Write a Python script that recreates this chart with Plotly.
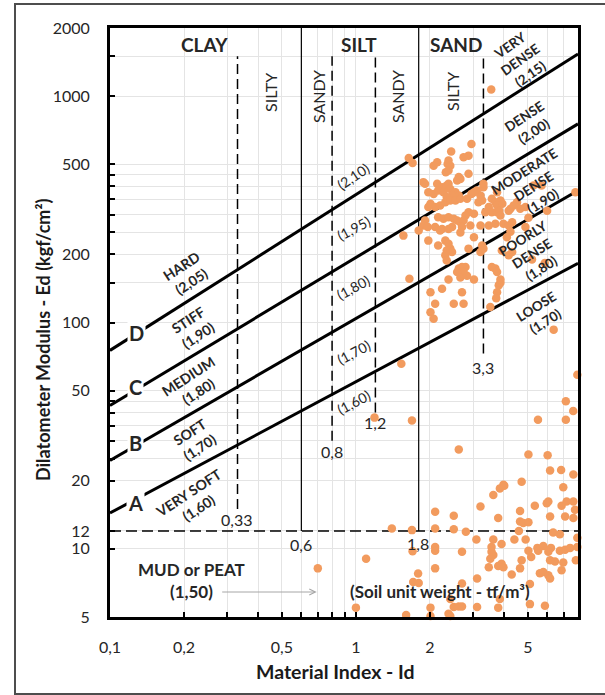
import math
import plotly.graph_objects as go

# ---------------- data ----------------
x_range = [0.1, 8.0]
y_range = [5, 2000]

# consistency lines A-D (Id at both ends, Ed at both ends)
line_id = [0.1, 8.0]
line_A_ed = [14.4, 182.7]
line_B_ed = [24.6, 383]
line_C_ed = [43.0, 754]
line_D_ed = [75.3, 1536]

# soil-type boundaries (Id)
solid_bounds = [0.6, 1.8]
solid_bottom = 12
dashed_bounds = [0.33, 0.8, 1.2, 3.3]
dashed_bottoms = [15, 30, 40, 73]
dashed_top = 1500
mud_limit = 12
bound_labels = ["0,33", "0,6", "0,8", "1,2", "1,8", "3,3"]

# measured points, upper cluster
id_upper = [3.55, 2.95, 1.64, 1.70, 2.44, 2.87, 2.74, 2.38, 2.36, 2.42, 2.14, 2.07, 2.32, 2.38, 2.87, 2.62,
            2.58, 2.66, 1.88, 1.91, 2.14, 2.24, 2.34, 2.38, 2.42, 1.97, 2.07, 2.16, 2.27, 2.54, 2.62, 2.46,
            3.10, 3.30, 2.95, 2.01, 1.97, 2.10, 2.20, 2.31, 2.34, 2.42, 2.54, 2.66, 2.83, 3.21, 3.26, 3.15,
            3.57, 3.69, 3.47, 2.87, 2.79, 3.02, 3.36, 3.57, 3.75, 2.16, 2.27, 2.38, 2.50, 2.58, 2.66, 2.74,
            1.91, 1.88, 3.69, 3.47, 2.10, 2.24, 2.46, 2.70, 2.92, 3.21, 1.96, 2.20, 2.38, 2.66, 1.97, 2.16,
            2.31, 2.38, 2.42, 2.34, 2.46, 2.31, 2.87, 3.02, 3.21, 3.30, 3.26, 2.34, 2.62, 2.70, 2.79, 2.74,
            2.66, 2.58, 2.83, 2.38, 3.02, 2.01, 2.24, 2.70, 2.10, 2.50, 2.74, 2.01, 2.07, 3.52, 3.69, 3.57,
            3.75, 3.81, 3.72, 3.87, 3.75, 1.65, 1.56, 1.80, 5.27, 5.69, 3.75, 3.87, 3.75, 3.94, 7.81, 4.52,
            4.38, 4.25, 4.18, 4.66, 4.89, 5.99, 5.03, 3.98, 4.18, 4.32, 4.89, 3.83, 3.87, 4.25, 4.11, 3.92,
            4.18, 4.32, 5.20, 5.86, 3.87, 6.37, 3.30, 3.02]
ed_upper = [1070, 615, 533, 507, 570, 546, 537, 519, 502, 493, 510, 493, 461, 469, 454, 439,
            424, 431, 417, 410, 410, 396, 403, 410, 389, 376, 370, 383, 376, 376, 364, 364,
            383, 396, 370, 335, 324, 324, 329, 340, 358, 346, 346, 352, 352, 364, 346, 340,
            352, 340, 324, 307, 297, 302, 307, 307, 307, 292, 287, 292, 287, 282, 277, 282,
            282, 268, 273, 268, 264, 259, 264, 264, 268, 268, 264, 255, 259, 250, 230, 219,
            230, 223, 212, 208, 205, 198, 212, 238, 205, 212, 219, 188, 173, 176, 176, 167,
            158, 167, 161, 155, 155, 136, 141, 136, 121, 121, 121, 111, 104, 117, 173, 176,
            136, 146, 128, 150, 167, 156, 242, 255, 403, 403, 376, 346, 329, 335, 376, 340,
            329, 318, 312, 318, 324, 312, 290, 273, 268, 277, 264, 312, 297, 252, 238, 208,
            198, 205, 190, 183, 155, 93, 410, 376]

# measured points, lower cluster
id_lower = [0.70, 1.10, 1.00, 1.40, 1.69, 1.70, 1.60, 2.01, 2.01, 1.79, 1.71, 1.80, 2.10, 2.50, 2.10, 2.50,
            2.80, 2.10, 2.10, 2.70, 3.09, 2.10, 3.52, 3.47, 2.70, 3.11, 2.42, 2.50, 2.62, 2.70, 3.11, 2.38,
            2.42, 2.62, 3.21, 5.03, 6.02, 6.16, 6.83, 7.66, 4.72, 3.98, 3.85, 3.62, 6.97, 5.34, 5.97, 6.06,
            6.86, 7.19, 7.66, 7.78, 4.65, 6.16, 7.09, 7.66, 3.79, 4.65, 4.79, 5.03, 4.60, 6.34, 6.75, 3.62,
            4.41, 4.90, 7.95, 3.91, 5.47, 5.78, 5.51, 6.21, 6.06, 6.75, 7.09, 7.43, 7.95, 5.03, 5.16, 3.56,
            3.62, 3.56, 6.16, 6.45, 4.72, 3.91, 3.79, 3.98, 6.97, 6.86, 7.84, 4.65, 4.30, 5.60, 5.78, 6.06,
            6.16, 5.10, 5.10, 3.85, 5.87, 3.79, 7.14, 7.65, 7.14, 5.50, 7.95, 1.53, 1.69, 1.19, 4.01]
ed_lower = [8.2, 9.05, 5.5, 12.3, 12.1, 9.75, 5.1, 5.5, 5.05, 7.78, 7.14, 7.07, 14.6, 14.0, 12.3, 12.2,
            11.9, 10.2, 9.8, 9.7, 11.0, 8.2, 9.05, 8.3, 7.03, 7.40, 6.0, 5.53, 5.57, 5.57, 5.53, 5.17,
            5.05, 27.5, 15.4, 26.1, 25.9, 22.2, 22.3, 21.3, 19.8, 19.2, 18.5, 17.3, 18.7, 15.5, 15.9, 16.2,
            15.5, 16.2, 16.2, 14.9, 14.7, 13.9, 13.9, 13.7, 13.7, 13.2, 13.0, 13.1, 12.0, 11.8, 11.6, 11.0,
            11.0, 11.0, 11.2, 10.5, 10.1, 10.3, 9.8, 10.1, 9.7, 9.8, 9.9, 10.1, 10.2, 9.8, 9.2, 10.2,
            9.4, 9.7, 8.9, 8.8, 8.9, 8.6, 8.4, 8.3, 8.7, 8.05, 8.9, 8.2, 7.7, 7.8, 7.9, 7.65,
            7.4, 7.0, 5.7, 6.0, 5.6, 5.5, 44.9, 40.6, 37.2, 37.2, 58.8, 65.7, 36.9, 38.0, 19.0]

# axis ticks
x_major = [0.1, 0.2, 0.5, 1, 2, 5]
x_major_text = ["0,1", "0,2", "0,5", "1", "2", "5"]
x_minor = [0.3, 0.4, 0.6, 0.7, 0.8, 0.9, 3, 4, 6, 7]
y_major = [5, 10, 12, 20, 50, 100, 200, 500, 1000, 2000]
y_minor = [25, 30, 35, 40, 45, 150, 250, 300, 350, 400, 450, 1500]

# ---------------- figure ----------------
FONT = "Lato, 'Open Sans', sans-serif"
TXT = "#262626"
GRID = "#E4E4E4"
DOT = "#F29B5E"

fig = go.Figure()

for ed in (line_A_ed, line_B_ed, line_C_ed, line_D_ed):
    fig.add_trace(go.Scatter(x=line_id, y=ed, mode="lines",
                             line=dict(color="black", width=3),
                             hoverinfo="skip", showlegend=False))

for b in solid_bounds:
    fig.add_trace(go.Scatter(x=[b, b], y=[solid_bottom, y_range[1]], mode="lines",
                             line=dict(color="black", width=1.2),
                             hoverinfo="skip", showlegend=False))

for b, bottom in zip(dashed_bounds, dashed_bottoms):
    fig.add_trace(go.Scatter(x=[b, b], y=[bottom, dashed_top], mode="lines",
                             line=dict(color="black", width=1.5, dash="10px,5px"),
                             hoverinfo="skip", showlegend=False))

fig.add_trace(go.Scatter(x=x_range, y=[mud_limit, mud_limit], mode="lines",
                         line=dict(color="black", width=1.5, dash="11px,5px"),
                         hoverinfo="skip", showlegend=False))

fig.add_trace(go.Scatter(x=id_upper + id_lower, y=ed_upper + ed_lower, mode="markers",
                         marker=dict(color=DOT, size=8.5, line=dict(width=0)),
                         cliponaxis=False, showlegend=False))

# plot area: x 110..578 px, y 28..617 px
L, R, T, B = 110, 578, 28, 617


def P(px, py):
    return dict(x=(px - L) / (R - L), y=(B - py) / (B - T), xref="paper", yref="paper")


ann = []


def text(t, px, py, size, bold=False, angle=0, bg=None, color=TXT):
    d = P(px, py)
    d.update(text=("<b>%s</b>" % t) if bold else t, showarrow=False, textangle=angle,
             font=dict(family=FONT, size=size, color=color), xanchor="center", yanchor="middle")
    if bg:
        d.update(bgcolor=bg, borderpad=1)
    ann.append(d)


# soil class headers
text("CLAY", 204, 44, 19, True)
text("SILT", 358.7, 44, 19, True)
text("SAND", 455.5, 44, 19, True)
text("SILTY", 270, 93, 16, angle=-90)
text("SANDY", 318, 97, 16, angle=-90)
text("SANDY", 397, 97, 16, angle=-90)
text("SILTY", 452, 92, 16, angle=-90)

# right side consistency labels
text("VERY<br>DENSE<br>(2,15)", 520, 59, 13.5, True, -35)
text("DENSE<br>(2,00)", 529, 123.5, 13.5, True, -33)
text("MODERATE<br>DENSE<br>(1,90)", 533, 186, 13.5, True, -32)
text("POORLY<br>DENSE<br>(1,80)", 531.7, 253, 13.5, True, -32)
text("LOOSE<br>(1,70)", 541, 314, 13.5, True, -32)

# left side consistency labels
text("HARD<br>(2,05)", 186.3, 273.3, 14, True, -33)
text("STIFF<br>(1,90)", 193, 327.5, 14, True, -33)
text("MEDIUM<br>(1,80)", 193.3, 383, 14, True, -33)
text("SOFT<br>(1,70)", 194.7, 439.7, 14, True, -33)
text("VERY SOFT<br>(1,60)", 193, 500.7, 14, True, -33)

# silt labels
text("(2,10)", 353, 177, 14, False, -34)
text("(1,95)", 353, 228, 14, False, -28)
text("(1,80)", 353, 288, 14, False, -28)
text("(1,70)", 353, 352, 14, False, -28)
text("(1,60)", 353, 402, 14, False, -28)

# line letters
text("D", 136.7, 333, 20, True, bg="white")
text("C", 135, 386.7, 20, True, bg="white")
text("B", 135, 443, 20, True, bg="white")
text("A", 135, 503, 20, True, bg="white")

# boundary value labels
for lab, (px, py) in zip(bound_labels, [(236.7, 519), (301, 544), (331.7, 451.7),
                                         (375, 422.7), (418.3, 543), (483.3, 367.3)]):
    text(lab, px, py, 16)

# mud / peat
text("MUD or PEAT", 191.7, 569.3, 17, True)
text("(1,50)", 191.7, 591.7, 17, True)
text("(Soil unit weight - tf/m³)", 440, 591.7, 17, True)
arr = P(316.7, 592)
arr.update(text="", showarrow=True, ax=-96, ay=0, arrowhead=5, arrowsize=1.2,
           arrowwidth=1, arrowcolor="#A6A6A6")
ann.append(arr)

# axis titles
text("Material Index - Id", 335, 671.7, 19.5, True, color="#1a1a1a")
text("Dilatometer Modulus - Ed (kgf/cm²)", 43, 340, 18, True, -90, color="#1a1a1a")

axis_common = dict(type="log", showline=True, linewidth=3, linecolor="black", mirror=True,
                   ticks="inside", ticklen=5, tickwidth=2, tickcolor="black",
                   showgrid=True, gridcolor=GRID, gridwidth=1, zeroline=False,
                   tickfont=dict(family=FONT, size=16, color=TXT))

fig.update_layout(
    width=605, height=695,
    margin=dict(l=L, r=605 - R, t=T, b=695 - B),
    paper_bgcolor="white", plot_bgcolor="white",
    showlegend=False,
    xaxis=dict(axis_common, range=[math.log10(x_range[0]), math.log10(x_range[1])],
               tickmode="array", tickvals=x_major, ticktext=x_major_text,
               ticklabelstandoff=14,
               minor=dict(tickmode="array", tickvals=x_minor, ticks="inside", ticklen=5,
                          tickwidth=2, tickcolor="black", showgrid=True, gridcolor=GRID)),
    yaxis=dict(axis_common, range=[math.log10(y_range[0]), math.log10(y_range[1])],
               tickmode="array", tickvals=y_major, ticktext=[str(v) for v in y_major],
               ticklabelstandoff=14,
               minor=dict(tickmode="array", tickvals=y_minor, ticks="inside", ticklen=5,
                          tickwidth=2, tickcolor="black", showgrid=True, gridcolor=GRID)),
    annotations=ann,
    shapes=[dict(type="rect", xref="paper", yref="paper",
                 x0=(15 - L) / (R - L), x1=(640 - L) / (R - L),
                 y0=(B - 694) / (B - T), y1=(B - 4) / (B - T),
                 line=dict(color="#4d4d4d", width=2), fillcolor="rgba(0,0,0,0)", layer="below")],
)

fig.write_html("out.html", config={"displayModeBar": False},
               post_script="document.body.style.margin='0px';document.body.style.overflow='hidden';")
